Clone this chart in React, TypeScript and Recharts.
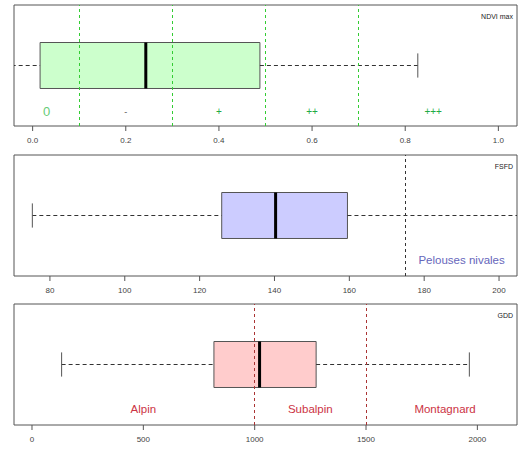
import React from 'react';
import { ComposedChart, XAxis, YAxis, Scatter, ReferenceArea, ReferenceLine, ReferenceDot } from 'recharts';

// box statistics: [min, q1, median, q3, max]
const ndviBox = [-0.06, 0.016, 0.243, 0.488, 0.827];
const ndviThresholds = [0.1, 0.3, 0.5, 0.7];
const ndviClassLabels = ['0', '-', '+', '++', '+++'];
const ndviClassCenters = [0.03, 0.2, 0.4, 0.6, 0.86];
const ndviTicks = [0, 0.2, 0.4, 0.6, 0.8, 1.0];

const fsfdBox = [75.3, 125.9, 140.3, 159.5, 212];
const fsfdThresholds = [175];
const fsfdClassLabels = ['Pelouses nivales'];
const fsfdClassCenters = [190];
const fsfdTicks = [80, 100, 120, 140, 160, 180, 200];

const gddBox = [133, 817, 1022, 1276, 1964];
const gddThresholds = [1000, 1500];
const gddClassLabels = ['Alpin', 'Subalpin', 'Montagnard'];
const gddClassCenters = [500, 1250, 1855];
const gddTicks = [0, 500, 1000, 1500, 2000];

const panelTitles = ['NDVI max', 'FSFD', 'GDD'];

const W = 529;
const BOX_LO = 0.31;
const BOX_HI = 0.69;
const CAP_LO = 0.4;
const CAP_HI = 0.6;

type PanelProps = {
  top: number;
  marginTop: number;
  axisHeight: number;
  domain: [number, number];
  ticks: number[];
  tickFmt: (v: number) => string;
  box: number[];
  fill: string;
  thresholds: number[];
  threshColor: string;
  labels: string[];
  labelXs: number[];
  labelY: number;
  labelColors: string[];
  labelSizes: number[];
  title: string;
};

function Panel(p: PanelProps) {
  const [mn, q1, med, q3, mx] = p.box;
  const mid = 0.5;
  return (
    <div style={{ position: 'absolute', left: 0, top: p.top, width: W, height: 150 }}>
      <ComposedChart
        width={W}
        height={150}
        margin={{ top: p.marginTop, right: 12, left: 14, bottom: 0 }}
        data={[{ x: med, y: mid }]}
      >
        <XAxis
          type="number"
          dataKey="x"
          domain={p.domain}
          ticks={p.ticks}
          interval={0}
          allowDataOverflow
          axisLine={false}
          tickLine={{ stroke: '#555' }}
          tickSize={5}
          tickMargin={6}
          height={p.axisHeight}
          tick={{ fontSize: 8, fill: '#444' }}
          tickFormatter={p.tickFmt}
        />
        <YAxis type="number" dataKey="y" domain={[0, 1]} hide allowDataOverflow />
        {/* lower whisker */}
        <ReferenceLine
          segment={[{ x: mn, y: mid }, { x: q1, y: mid }]}
          stroke="#333"
          strokeDasharray="4 3"
          ifOverflow="hidden"
        />
        <ReferenceLine
          segment={[{ x: mn, y: CAP_LO }, { x: mn, y: CAP_HI }]}
          stroke="#555"
          ifOverflow="hidden"
        />
        {/* upper whisker */}
        <ReferenceLine
          segment={[{ x: q3, y: mid }, { x: mx, y: mid }]}
          stroke="#333"
          strokeDasharray="4 3"
          ifOverflow="hidden"
        />
        <ReferenceLine
          segment={[{ x: mx, y: CAP_LO }, { x: mx, y: CAP_HI }]}
          stroke="#555"
          ifOverflow="hidden"
        />
        {/* box */}
        <ReferenceArea
          x1={q1}
          x2={q3}
          y1={BOX_LO}
          y2={BOX_HI}
          fill={p.fill}
          fillOpacity={1}
          stroke="#555"
          strokeWidth={1}
        />
        {p.thresholds.map((t, i) => (
          <ReferenceLine
            key={'t' + i}
            segment={[{ x: t, y: 0 }, { x: t, y: 1 }]}
            stroke={p.threshColor}
            strokeDasharray="3 3"
            strokeWidth={1}
            shapeRendering="crispEdges"
          />
        ))}
        {/* median */}
        <ReferenceLine
          segment={[{ x: med, y: BOX_LO }, { x: med, y: BOX_HI }]}
          stroke="#000"
          strokeWidth={3}
        />
        {p.labels.map((l, i) => (
          <ReferenceDot
            key={'l' + i}
            x={p.labelXs[i]}
            y={p.labelY}
            r={0}
            fill="none"
            stroke="none"
            label={{
              value: l,
              position: 'center',
              fill: p.labelColors[i],
              fontSize: p.labelSizes[i],
            }}
          />
        ))}
        {/* frame */}
        <ReferenceArea
          x1={p.domain[0]}
          x2={p.domain[1]}
          y1={0}
          y2={1}
          fill="none"
          stroke="#555"
          strokeWidth={1}
          label={(props: any) => {
            const vb = props.viewBox || {};
            return (
              <text x={vb.x + vb.width - 4} y={vb.y + 14} textAnchor="end" fontSize={7} fill="#222">
                {p.title}
              </text>
            );
          }}
        />
        <Scatter dataKey="y" isAnimationActive={false} shape={() => <g />} />
      </ComposedChart>
    </div>
  );
}

export default function App() {
  return (
    <div
      style={{
        position: 'absolute',
        left: 0,
        top: 0,
        width: W,
        height: 450,
        background: '#fff',
        fontFamily: '"Liberation Sans", Arial, sans-serif',
      }}
    >
      <Panel
        top={0}
        marginTop={5}
        axisHeight={24}
        domain={[-0.04, 1.04]}
        ticks={ndviTicks}
        tickFmt={(v) => v.toFixed(1)}
        box={ndviBox}
        fill="#ccffcc"
        thresholds={ndviThresholds}
        threshColor="#33cc33"
        labels={ndviClassLabels}
        labelXs={ndviClassCenters}
        labelY={0.12}
        labelColors={['#66cc77', '#555', '#22aa44', '#22aa44', '#22aa44']}
        labelSizes={[13, 9, 10, 10, 10]}
        title={panelTitles[0]}
      />
      <Panel
        top={150}
        marginTop={5}
        axisHeight={24}
        domain={[70.4, 204.8]}
        ticks={fsfdTicks}
        tickFmt={(v) => String(v)}
        box={fsfdBox}
        fill="#ccccff"
        thresholds={fsfdThresholds}
        threshColor="#333"
        labels={fsfdClassLabels}
        labelXs={fsfdClassCenters}
        labelY={0.13}
        labelColors={['#6666bb']}
        labelSizes={[11.5]}
        title={panelTitles[1]}
      />
      <Panel
        top={300}
        marginTop={4}
        axisHeight={25}
        domain={[-80.8, 2178]}
        ticks={gddTicks}
        tickFmt={(v) => String(v)}
        box={gddBox}
        fill="#ffcccc"
        thresholds={gddThresholds}
        threshColor="#aa3333"
        labels={gddClassLabels}
        labelXs={gddClassCenters}
        labelY={0.13}
        labelColors={['#cc3344', '#cc3344', '#cc3344']}
        labelSizes={[11.5, 11.5, 11.5]}
        title={panelTitles[2]}
      />
    </div>
  );
}
